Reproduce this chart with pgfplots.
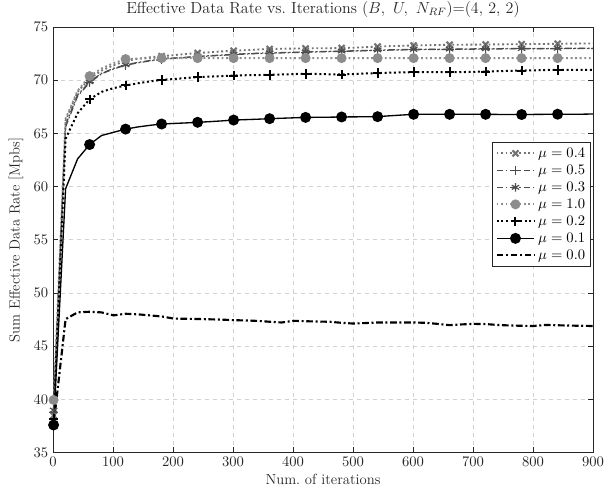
\documentclass[border=0pt]{standalone}
\usepackage{pgfplots}
\usepackage{pgfplotstable}
\pgfplotsset{compat=1.18}
\definecolor{axgray}{rgb}{0.15,0.15,0.15}
\definecolor{cA}{rgb}{0.45,0.45,0.45}
\definecolor{cB}{rgb}{0.30,0.30,0.30}
\definecolor{cC}{rgb}{0.55,0.55,0.55}

\pgfplotstableread{
it   m04    m05    m03    m10    m02    m01    m00
1    38.5   38.8   39.0   39.95  38.2   37.6   37.6
21   66.2   65.6   65.8   66.4   64.5   59.8   47.55
41   68.9   68.5   68.6   69.0   66.9   62.6   48.18
61   70.15  69.75  69.85  70.38  68.2   63.95  48.24
81   70.9   70.6   70.65  71.1   68.9   64.8   48.18
101  71.4   71.05  71.1   71.6   69.25  65.1   47.9
121  71.8   71.4   71.45  71.98  69.5   65.4   48.05
141  72.0   71.62  71.66  72.03  69.7   65.6   48.0
161  72.15  71.8   71.84  72.05  69.88  65.75  47.9
181  72.25  71.95  71.98  72.07  70.03  65.88  47.8
201  72.35  72.05  72.08  72.07  70.1   65.93  47.6
221  72.45  72.12  72.15  72.07  70.2   65.98  47.58
241  72.55  72.2   72.23  72.07  70.28  66.04  47.56
261  72.62  72.27  72.3   72.07  70.33  66.1   47.53
281  72.7   72.33  72.36  72.07  70.38  66.17  47.5
301  72.76  72.4   72.43  72.07  70.43  66.25  47.45
321  72.82  72.45  72.48  72.07  70.46  66.29  47.42
341  72.88  72.5   72.53  72.07  70.48  66.33  47.38
361  72.93  72.53  72.56  72.07  70.5   66.38  47.3
381  72.95  72.56  72.59  72.07  70.53  66.42  47.23
401  72.97  72.59  72.62  72.07  70.57  66.46  47.39
421  72.98  72.62  72.65  72.07  70.6   66.5   47.35
441  73.0   72.65  72.68  72.07  70.58  66.51  47.32
461  73.0   72.68  72.71  72.07  70.55  66.52  47.3
481  73.02  72.7   72.73  72.07  70.53  66.54  47.2
501  73.05  72.73  72.76  72.07  70.58  66.55  47.13
521  73.1   72.76  72.79  72.07  70.63  66.56  47.18
541  73.15  72.8   72.83  72.07  70.66  66.57  47.23
561  73.2   72.82  72.85  72.07  70.7   66.65  47.23
581  73.23  72.84  72.87  72.07  70.73  66.72  47.23
601  73.26  72.86  72.89  72.07  70.75  66.79  47.23
621  73.28  72.87  72.9   72.07  70.75  66.79  47.2
641  73.3   72.88  72.91  72.07  70.75  66.79  47.1
661  73.32  72.89  72.92  72.07  70.75  66.79  46.98
681  73.33  72.9   72.93  72.07  70.76  66.79  47.05
701  73.34  72.91  72.94  72.07  70.78  66.79  47.1
721  73.35  72.92  72.95  72.07  70.81  66.79  47.08
741  73.36  72.93  72.96  72.07  70.84  66.78  47.0
761  73.37  72.94  72.97  72.07  70.87  66.78  46.95
781  73.38  72.94  72.97  72.07  70.9   66.77  46.92
801  73.39  72.95  72.98  72.07  70.92  66.78  46.9
821  73.4   72.95  72.98  72.07  70.95  66.79  47.0
841  73.42  72.96  72.99  72.07  70.97  66.8   46.97
861  73.43  72.96  72.99  72.07  70.97  66.8   46.94
881  73.44  72.97  73.0   72.07  70.97  66.8   46.92
900  73.45  72.97  73.0   72.07  70.96  66.82  46.9
}\datatable

\begin{document}
\begin{tikzpicture}[font=\fontsize{11}{13.5}\selectfont]
\path[use as bounding box] (-39.75pt,-30.2pt) rectangle (420.75pt,339.5pt);
\begin{axis}[
  at={(0,0)}, anchor=south west,
  scale only axis,
  width=405pt, height=319.3pt,
  xmin=0, xmax=900, ymin=35, ymax=75,
  xtick={0,100,...,900},
  ytick={35,40,...,75},
  tick align=inside,
  major tick length=4pt,
  axis line style={axgray, line width=0.6pt},
  tick style={axgray, line width=0.5pt},
  grid=major,
  major grid style={dashed, black!18, line width=0.5pt},
  tick label style={text=axgray, font=\fontsize{11}{13.5}\selectfont},
  label style={text=axgray, font=\fontsize{11}{13.5}\selectfont},
  title style={text=axgray, yshift=-2.5pt, font=\fontsize{12}{14}\selectfont},
  title={Effective Data Rate vs.\ Iterations $(B,\ U,\ N_{RF})$=(4, 2, 2)},
  xlabel={Num.\ of iterations},
  ylabel={Sum Effective Data Rate [Mpbs]},
  xlabel style={yshift=1pt},
  ylabel style={yshift=1pt},
  clip=false,
  legend cell align=left,
  legend style={at={(0.996,0.73)}, anchor=north east, draw=axgray, line width=0.6pt, fill=white, row sep=0.2pt, inner sep=2pt, font=\fontsize{11}{13.5}\selectfont},
  legend image code/.code={\draw[#1, mark indices={2}] plot coordinates {(0cm,0cm) (0.5cm,0cm) (1.0cm,0cm)};},
  mark indices={1,4,7,10,13,16,19,22,25,28,31,34,37,40,43},
]
\addplot[cA, dotted, line width=1.4pt, mark=x, mark size=3.2pt, mark options={solid, line width=1.6pt}] table[x=it, y=m04] {\datatable};
\addlegendentry{$\mu=0.4$}
\addplot[cB, dash pattern=on 5pt off 2pt on 1.2pt off 2pt, line width=0.9pt, mark=+, mark size=3.4pt, mark options={solid, line width=0.9pt}] table[x=it, y=m05] {\datatable};
\addlegendentry{$\mu=0.5$}
\addplot[cB, dash pattern=on 5pt off 2pt on 1.2pt off 2pt, line width=0.9pt, mark=asterisk, mark size=3.2pt, mark options={solid, line width=0.9pt}] table[x=it, y=m03] {\datatable};
\addlegendentry{$\mu=0.3$}
\addplot[cC, dotted, line width=1.4pt, mark=*, mark size=3pt, mark options={solid, fill=cC}] table[x=it, y=m10] {\datatable};
\addlegendentry{$\mu=1.0$}
\addplot[black, dotted, line width=1.5pt, mark=+, mark size=3.6pt, mark options={solid, line width=1.5pt}] table[x=it, y=m02] {\datatable};
\addlegendentry{$\mu=0.2$}
\addplot[black, solid, line width=1pt, mark=*, mark size=3.6pt, mark options={solid, fill=black}] table[x=it, y=m01] {\datatable};
\addlegendentry{$\mu=0.1$}
\addplot[black, dash pattern=on 5pt off 2pt on 1.5pt off 2pt, line width=1.6pt, no marks] table[x=it, y=m00] {\datatable};
\addlegendentry{$\mu=0.0$}
\end{axis}
\end{tikzpicture}
\end{document}
